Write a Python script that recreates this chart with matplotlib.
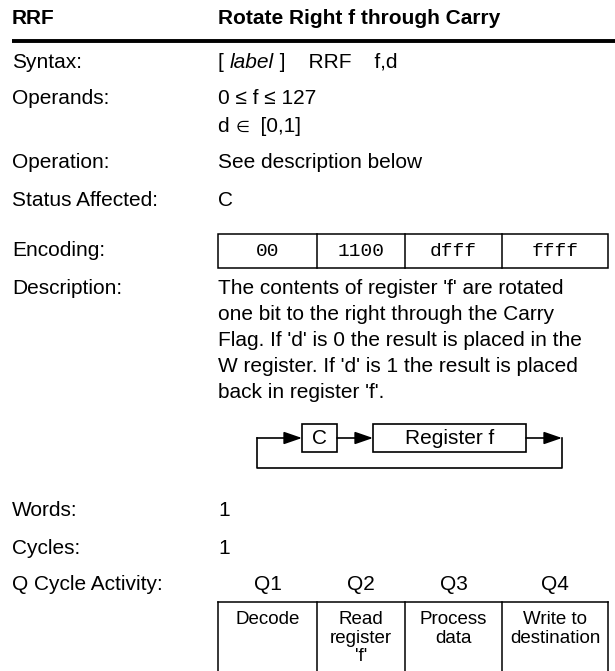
import matplotlib
matplotlib.use("Agg")
import matplotlib.pyplot as plt
from matplotlib.patches import Rectangle

plt.rcParams['font.family'] = ['Liberation Sans', 'DejaVu Sans']

# Content of the instruction sheet
title_mnemonic = 'RRF'
title_text = 'Rotate Right f through Carry'
row_labels = ['Syntax:', 'Operands:', 'Operation:', 'Status Affected:',
              'Encoding:', 'Description:', 'Words:', 'Cycles:', 'Q Cycle Activity:']
operands = ['0 \u2264 f \u2264 127', 'd \u2208  [0,1]']
operation = 'See description below'
status = 'C'
encoding = ['00', '1100', 'dfff', 'ffff']
description = ["The contents of register 'f' are rotated",
               "one bit to the right through the Carry",
               "Flag. If 'd' is 0 the result is placed in the",
               "W register. If 'd' is 1 the result is placed",
               "back in register 'f'."]
words = '1'
cycles = '1'
q_heads = ['Q1', 'Q2', 'Q3', 'Q4']
q_cells = ['Decode', "Read\nregister\n'f'", 'Process\ndata', 'Write to\ndestination']

W, H = 615, 671
fig = plt.figure(figsize=(W / 100, H / 100), dpi=100)
ax = fig.add_axes([0, 0, 1, 1])
ax.set_xlim(0, W)
ax.set_ylim(H, 0)
ax.axis('off')

fs = 15
xl, xv = 12, 218
col_edges = [218, 317, 405, 502, 608]

# header
ax.text(xl, 18, title_mnemonic, fontsize=fs, fontweight='bold', va='center')
ax.text(xv, 18, title_text, fontsize=fs, fontweight='bold', va='center')
ax.plot([xl, W], [41, 41], color='black', lw=2.8, solid_capstyle='butt')

row_y = [62, 99, 163, 200, 251, 289, 511, 548, 584]
for lab, y in zip(row_labels, row_y):
    ax.text(xl, y, lab, fontsize=fs, va='center')

fig.canvas.draw()
rend = fig.canvas.get_renderer()


def pieces(x, y, parts):
    # write text pieces one after another on a shared baseline
    for piece, style, size in parts:
        t = ax.text(x, y + 6, piece, fontsize=size, style=style, va='baseline')
        x += t.get_window_extent(rend).width


pieces(xv, row_y[0], [('[ ', 'normal', fs), ('label', 'italic', fs),
                      (' ]    RRF    f,d', 'normal', fs)])
ax.text(xv, row_y[1], operands[0], fontsize=fs, va='center')
d_txt, in_sym, rng = operands[1].split(' ', 2)
pieces(xv, row_y[1] + 27, [(d_txt + ' ', 'normal', fs), (in_sym, 'normal', 11.5),
                           (' ' + rng, 'normal', fs)])
ax.text(xv, row_y[2], operation, fontsize=fs, va='center')
ax.text(xv, row_y[3], status, fontsize=fs, va='center')

# encoding box
ey0, ey1 = row_y[4] - 17, row_y[4] + 17
ax.add_patch(Rectangle((col_edges[0], ey0), col_edges[-1] - col_edges[0], ey1 - ey0,
                       fill=False, lw=1.1, ec='black'))
for xe in col_edges[1:-1]:
    ax.plot([xe, xe], [ey0, ey1], color='black', lw=1.1)
for i, code in enumerate(encoding):
    cx = (col_edges[i] + col_edges[i + 1]) / 2
    ax.text(cx, (ey0 + ey1) / 2, code, fontsize=14, family='Liberation Mono',
            ha='center', va='center')

# description
for i, line in enumerate(description):
    ax.text(xv, row_y[5] + 26 * i, line, fontsize=fs, va='center')

# rotate diagram
ay = 438
c_box = (302, 337)
r_box = (373, 526)
by0, by1 = 424, 452
loop_l, loop_r, loop_b = 257, 562, 468
ax.add_patch(Rectangle((c_box[0], by0), c_box[1] - c_box[0], by1 - by0, fill=False, lw=1.2))
ax.add_patch(Rectangle((r_box[0], by0), r_box[1] - r_box[0], by1 - by0, fill=False, lw=1.2))
ax.text(sum(c_box) / 2, (by0 + by1) / 2, 'C', fontsize=fs, ha='center', va='center')
ax.text(sum(r_box) / 2, (by0 + by1) / 2, 'Register f', fontsize=fs, ha='center', va='center')
ax.plot([loop_r, loop_r, loop_l, loop_l], [ay, loop_b, loop_b, ay], color='black', lw=1.2)


def arrow(x0, x1):
    ax.annotate('', xy=(x1, ay), xytext=(x0, ay),
                arrowprops=dict(arrowstyle='-|>,head_length=1.1,head_width=0.38',
                                color='black', lw=1.2, shrinkA=0, shrinkB=0))


arrow(loop_l, c_box[0])
arrow(c_box[1], r_box[0])
arrow(r_box[1], loop_r)

ax.text(xv, row_y[6], words, fontsize=fs, va='center')
ax.text(xv, row_y[7], cycles, fontsize=fs, va='center')

# Q cycle table
qy0 = 602
for i, (hd, cell) in enumerate(zip(q_heads, q_cells)):
    cx = (col_edges[i] + col_edges[i + 1]) / 2
    ax.text(cx, row_y[8], hd, fontsize=fs, ha='center', va='center')
    ax.text(cx, qy0 + 9, cell, fontsize=13.5, ha='center', va='top', linespacing=1.12)
ax.plot([col_edges[0], col_edges[-1]], [qy0, qy0], color='black', lw=1.1)
for xe in col_edges:
    ax.plot([xe, xe], [qy0, H + 2], color='black', lw=1.1)

fig.savefig('out.png', dpi=100)
